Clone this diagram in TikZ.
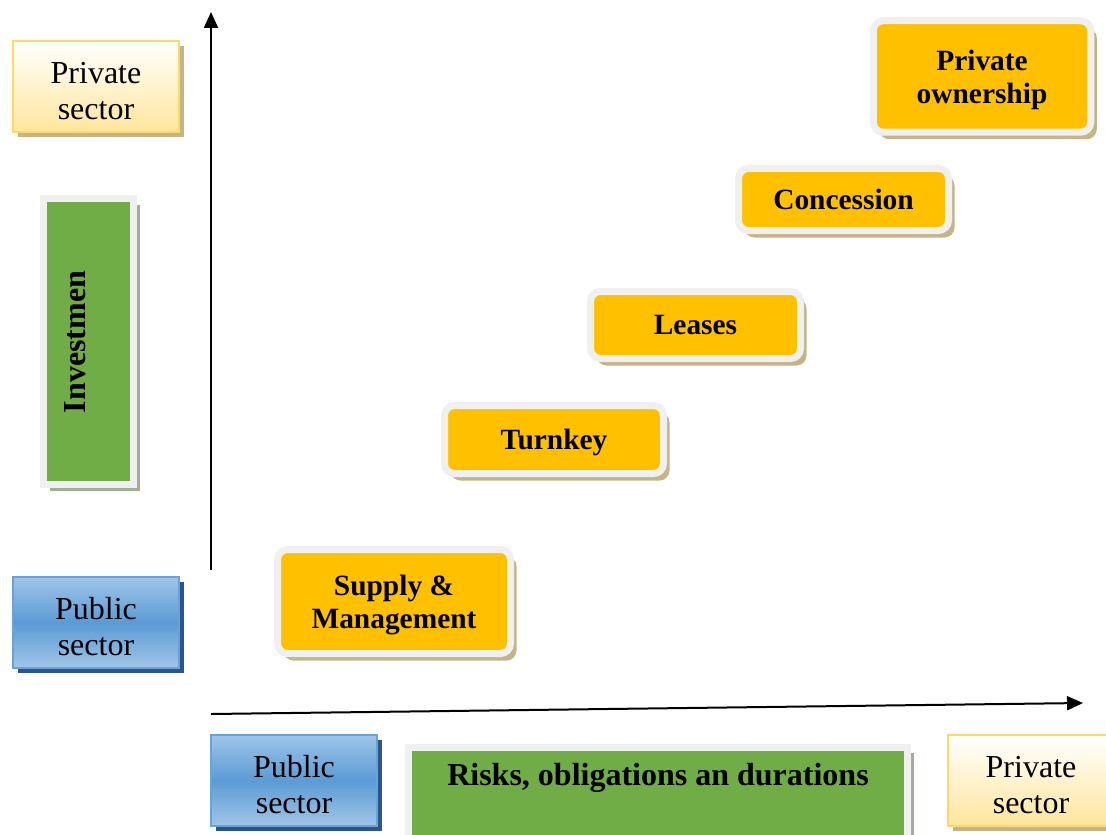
\documentclass[tikz,border=0pt]{standalone}
\usepackage{fontspec}
\setmainfont{Liberation Serif}
\usetikzlibrary{arrows.meta, shadows}

\definecolor{stageorange}{HTML}{FFC000}
\definecolor{framegray}{HTML}{F0F0F0}
\definecolor{tanshadow}{HTML}{C5B487}
\definecolor{panelgreen}{HTML}{70AD47}
\definecolor{greenshadow}{HTML}{A3AE98}
\definecolor{privedge}{HTML}{FFD966}
\definecolor{privfill}{HTML}{FFE69C}
\definecolor{publight}{HTML}{A0C5E8}
\definecolor{pubmid}{HTML}{5B9BD5}
\definecolor{pubedge}{HTML}{6AA2D8}
\definecolor{pubshadow}{HTML}{2B5689}

\begin{document}
\begin{tikzpicture}[
      x=0.5pt, y=-0.5pt,
      sector/.style={draw, line width=1pt, minimum width=83pt, minimum height=45.5pt,
                     inner sep=0pt, align=center, text height=33pt, text depth=0pt,
                     font=\fontsize{16}{18}\selectfont},
      private/.style={sector, draw=privedge, top color=white, bottom color=privfill,
                      drop shadow={shadow xshift=2.5pt, shadow yshift=-2.5pt, fill=tanshadow, opacity=1}},
      public/.style={sector, draw=pubedge, top color=publight, bottom color=publight, middle color=pubmid,
                     drop shadow={shadow xshift=2.5pt, shadow yshift=-2.5pt, fill=pubshadow, opacity=1}},
      stage/.style={draw=framegray, line width=3.5pt, fill=stageorange, rounded corners=5pt,
                    inner sep=0pt, align=center, text depth=-1pt,
                    font=\bfseries\fontsize{14.7}{16.5}\selectfont,
                    drop shadow={shadow xshift=3pt, shadow yshift=-3.5pt, fill=tanshadow, opacity=1}},
      panel/.style={draw=framegray, line width=3.5pt, fill=panelgreen, inner sep=0pt,
                    drop shadow={shadow xshift=3pt, shadow yshift=-3pt, fill=greenshadow, opacity=1}},
      panellabel/.style={font=\bfseries\fontsize{16}{18}\selectfont},
      axis/.style={line width=1pt, -{Triangle[length=8pt, width=7pt]}},
    ]
    \useasboundingbox (0,0) rectangle (1106,834);
    \clip (0,0) rectangle (1106,834);

    % --- axes ---
    \coordinate (vfoot) at (211,570);
    \coordinate (vhead) at (211,12);
    \coordinate (hfoot) at (211,714);
    \coordinate (hhead) at (1083,703);
    \draw[axis] (vfoot) -- (vhead);
    \draw[axis] (hfoot) -- (hhead);

    % --- vertical scale: private on top, public below ---
    \node[private] (privtop) at (96,86.5)  {Private\\sector};
    \node[public]  (publeft) at (96,622.5) {Public\\sector};
    \node[panel, minimum width=45pt, minimum height=143pt] (invest) at (88.5,341.5) {};
    \node[panellabel, rotate=90] (investlabel) at (75,342) {Investmen};

    % --- horizontal scale ---
    \node[public]  (pubbottom) at (294,780.5)  {Public\\sector};
    \node[private] (privright) at (1031,780.5) {Private\\sector};
    \node[panel, minimum width=249.75pt, minimum height=52pt, anchor=north] (risks) at (658,743.5) {};
    \node[panellabel] (riskslabel) at (658,778) {Risks, obligations an durations};

    % --- contract forms, low to high ---
    \node[stage, minimum width=116.5pt, minimum height=52pt]    (supply)     at (394,601.5)  {Supply \&\\Management};
    \node[stage, minimum width=109.5pt, minimum height=34pt]    (turnkey)    at (554,439.5)  {Turnkey};
    \node[stage, minimum width=105pt,   minimum height=33.5pt]  (leases)     at (695.5,325)  {Leases};
    \node[stage, minimum width=105pt,   minimum height=31pt]    (concession) at (843.5,199.5) {Concession};
    \node[stage, minimum width=108.75pt, minimum height=55.75pt] (ownership) at (982,76.5)   {Private\\ownership};
  \end{tikzpicture}
\end{document}
